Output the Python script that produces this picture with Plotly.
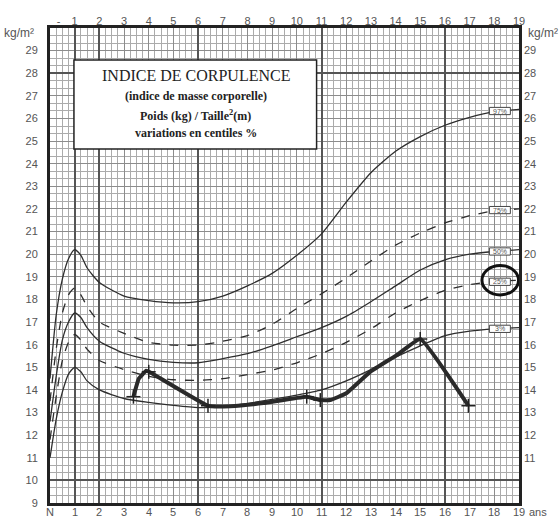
import plotly.graph_objects as go

# ---------------- data ----------------
ages = [0, 0.25, 0.5, 0.75, 1.0, 1.25, 1.5, 2, 3, 4, 5, 6, 7, 8, 9, 10,
        11, 12, 13, 14, 15, 16, 17, 18, 19]
p97 = [14.5, 17.3, 18.9, 19.8, 20.2, 19.95, 19.4, 18.75, 18.15, 17.95, 17.85, 17.9,
       18.15, 18.6, 19.15, 19.95, 20.9, 22.3, 23.6, 24.55, 25.2, 25.7, 26.05, 26.3, 26.4]
p75 = [13.5, 15.8, 17.4, 18.2, 18.5, 18.2, 17.7, 17.0, 16.5, 16.1, 15.98, 15.98,
       16.15, 16.4, 16.9, 17.6, 18.25, 18.95, 19.7, 20.4, 20.94, 21.38, 21.7, 21.92, 22.0]
p50 = [12.6, 14.6, 16.2, 17.0, 17.4, 17.2, 16.75, 16.15, 15.62, 15.35, 15.22, 15.2,
       15.38, 15.6, 15.95, 16.35, 16.75, 17.25, 17.9, 18.6, 19.3, 19.75, 20.0, 20.12, 20.2]
p25 = [11.8, 13.7, 15.3, 16.1, 16.45, 16.2, 15.8, 15.3, 14.9, 14.6, 14.45, 14.42,
       14.5, 14.68, 14.88, 15.2, 15.6, 16.1, 16.7, 17.4, 17.95, 18.4, 18.65, 18.8, 18.85]
p3 = [11.0, 12.7, 13.9, 14.7, 15.0, 14.8, 14.4, 14.0, 13.62, 13.45, 13.32, 13.22,
      13.25, 13.4, 13.58, 13.77, 14.0, 14.4, 14.9, 15.45, 15.95, 16.4, 16.6, 16.7, 16.75]
centile_labels = ["97%", "75%", "50%", "25%", "3%"]

child_age = [3.38, 3.6, 3.9, 4.1, 6.4, 7.3, 8.65, 10.4, 10.95, 11.35, 12.0, 12.97, 14.05, 15.0, 16.95]
child_bmi = [13.7, 14.5, 14.85, 14.75, 13.3, 13.28, 13.42, 13.7, 13.55, 13.55, 13.85, 14.8, 15.54, 16.25, 13.3]
mark_age = [3.38, 4.0, 6.4, 10.4, 10.95, 15.0, 16.95]
mark_bmi = [13.7, 14.8, 13.3, 13.7, 13.55, 16.25, 13.3]

bottom_ticks = ["N"] + [str(i) for i in range(1, 20)]
top_ticks = ["-"] + [str(i) for i in range(1, 20)]
left_ticks = [str(i) for i in range(9, 30)]
right_ticks = [str(i) for i in range(11, 30)]

title_lines = ["INDICE DE CORPULENCE", "(indice de masse corporelle)",
               "Poids (kg) / Taille<sup>2</sup>(m)", "variations en centiles %"]

# ---------------- figure ----------------
fig = go.Figure()
curve_col = "#2e2e2e"
styles = [(p97, "solid"), (p75, "dash"), (p50, "solid"), (p25, "dash"), (p3, "solid")]
for vals, dash in styles:
    fig.add_trace(go.Scatter(x=ages, y=vals, mode="lines",
                             line=dict(color=curve_col, width=1.3, dash=dash, shape="spline", smoothing=0.6),
                             hoverinfo="skip", showlegend=False))

fig.add_trace(go.Scatter(x=child_age, y=child_bmi, mode="lines",
                         line=dict(color="#2a2a2a", width=4, shape="spline", smoothing=0.3),
                         showlegend=False))
fig.add_trace(go.Scatter(x=mark_age, y=mark_bmi, mode="markers",
                         marker=dict(symbol="line-ns", size=10, line=dict(color="#222", width=1.5)),
                         showlegend=False))
fig.add_trace(go.Scatter(x=mark_age, y=mark_bmi, mode="markers",
                         marker=dict(symbol="line-ew", size=10, line=dict(color="#222", width=1.5)),
                         showlegend=False))
# invisible traces to activate top / right / grid axes
fig.add_trace(go.Scatter(x=[0, 19], y=[9, 30], mode="markers", marker=dict(opacity=0),
                         xaxis="x2", yaxis="y2", showlegend=False, hoverinfo="skip"))
fig.add_trace(go.Scatter(x=[0, 19], y=[9, 30], mode="markers", marker=dict(opacity=0),
                         xaxis="x3", yaxis="y3", showlegend=False, hoverinfo="skip"))

tick_font = dict(family="Liberation Sans, Arial, sans-serif", size=11, color="#555")
grid_minor = "#ababab"
grid_major = "#8c8c8c"

fig.update_layout(
    width=560, height=518,
    margin=dict(l=50, r=41, t=28, b=15, autoexpand=False),
    paper_bgcolor="white", plot_bgcolor="white",
    xaxis=dict(range=[0, 19], tickvals=list(range(0, 20)), showticklabels=False,
               ticks="", showgrid=True, gridcolor=grid_major, gridwidth=1,
               minor=dict(dtick=0.25, showgrid=True, gridcolor=grid_minor, gridwidth=1),
               zeroline=False, showline=True, linecolor="#222", linewidth=3, mirror=True,
               automargin=False, fixedrange=True),
    xaxis2=dict(range=[0, 19], overlaying="x", side="top", tickvals=[0.35] + list(range(1, 20)),
                ticktext=top_ticks, tickfont=tick_font, ticks="", showgrid=False, zeroline=False,
                automargin=False),
    xaxis3=dict(range=[0, 19], overlaying="x", tickvals=[1, 2, 6, 11, 16], showticklabels=False,
                ticks="", showgrid=True, gridcolor="#555", gridwidth=1.6, zeroline=False, automargin=False),
    yaxis=dict(range=[9, 30], tickvals=list(range(9, 30)), ticktext=left_ticks, tickfont=tick_font,
               ticks="", showgrid=True, gridcolor=grid_major, gridwidth=1, ticklabelstandoff=7,
               minor=dict(dtick=1/3, showgrid=True, gridcolor=grid_minor, gridwidth=1),
               zeroline=False, showline=True, linecolor="#222", linewidth=3, mirror=True,
               automargin=False),
    yaxis2=dict(range=[9, 30], overlaying="y", side="right", tickvals=list(range(11, 30)),
                ticktext=right_ticks, tickfont=tick_font, ticks="", showgrid=False, zeroline=False,
                automargin=False, ticklabelstandoff=4),
    yaxis3=dict(range=[9, 30], overlaying="y", tickvals=[10, 28], showticklabels=False,
                ticks="", showgrid=True, gridcolor="#555", gridwidth=1.6, zeroline=False, automargin=False),
)

# bottom tick labels (as annotations, so they sit close to the frame)
for v, t in zip(range(0, 20), bottom_ticks):
    fig.add_annotation(x=v, xref="x", y=-0.019, yref="paper", text=t, showarrow=False,
                       font=tick_font, xanchor="center", yanchor="middle")
fig.add_annotation(xref="paper", yref="paper", x=1.04, y=-0.019, text="ans", showarrow=False,
                   font=tick_font, xanchor="center", yanchor="middle")

# text box
fig.add_shape(type="rect", x0=0.97, x1=10.8, y0=24.65, y1=28.58, xref="x", yref="y",
              fillcolor="white", line=dict(color="#222", width=1.5), layer="above")
title_y = [27.88, 27.0, 26.15, 25.36]
sizes = [16, 12, 12, 12]
for txt, yy, sz in zip(title_lines, title_y, sizes):
    fig.add_annotation(x=5.9, y=yy, text=f"<b>{txt}</b>" if sz < 15 else txt, showarrow=False,
                       font=dict(family="Liberation Serif, serif", size=sz, color="#222"))

# centile label boxes
label_vals = [26.33, 21.95, 20.12, 18.78, 16.7]
for lab, v in zip(centile_labels, label_vals):
    fig.add_shape(type="rect", x0=17.8, x1=18.65, y0=v - 0.16, y1=v + 0.16, fillcolor="white",
                  line=dict(color="#444", width=1), layer="above")
    fig.add_annotation(x=18.22, y=v, text=lab, showarrow=False,
                       font=dict(family="Liberation Sans, sans-serif", size=7, color="#555"))

# ellipse around 25%
fig.add_shape(type="circle", x0=17.5, x1=18.98, y0=18.2, y1=19.5, line=dict(color="#111", width=3),
              layer="above")

# axis unit labels
unit_font = dict(family="Liberation Sans, Arial, sans-serif", size=12, color="#555")
fig.add_annotation(xref="paper", yref="paper", x=-0.103, y=0.99, xanchor="left", yanchor="middle",
                   text="kg/m²", showarrow=False, font=unit_font)
fig.add_annotation(xref="paper", yref="paper", x=1.015, y=0.99, xanchor="left", yanchor="middle",
                   text="kg/m²", showarrow=False, font=unit_font)

fig.write_html("out.html", config={"displayModeBar": False},
               post_script="document.body.style.margin='0';document.body.style.padding='0';")
